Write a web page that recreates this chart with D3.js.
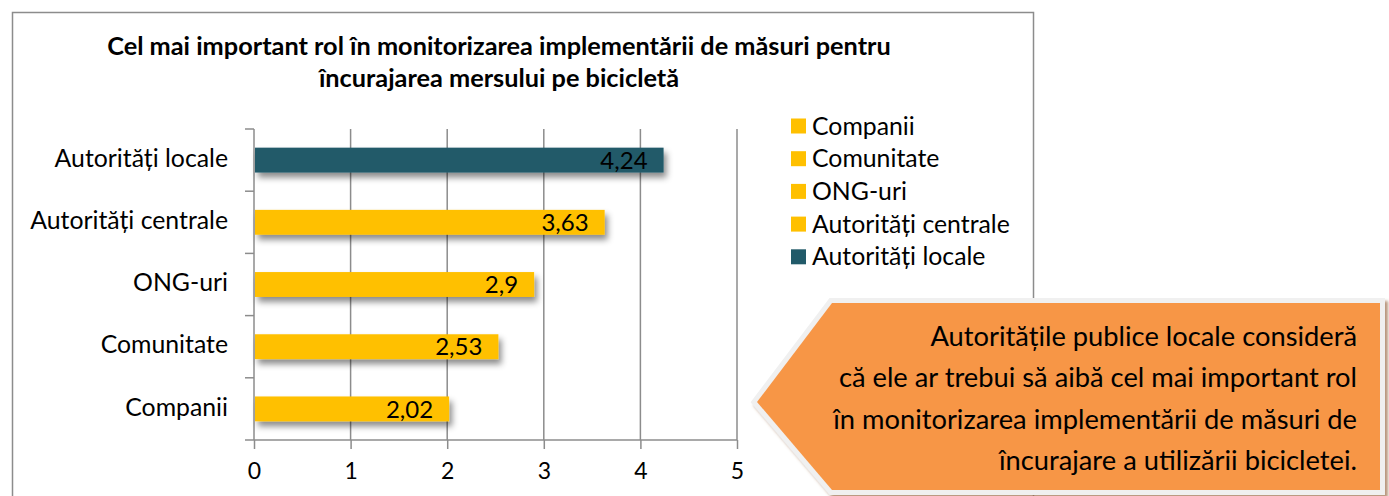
<!DOCTYPE html>
<html>
<head>
<meta charset="utf-8">
<script src="https://cdn.jsdelivr.net/npm/d3@7"></script>
<style>
  body { margin: 0; background: #fff; }
  svg { display: block; font-family: Lato, "Open Sans", sans-serif; }
</style>
</head>
<body>
<div id="chart"></div>
<script>
// data, bottom to top as in the picture
var categories = ["Companii", "Comunitate", "ONG-uri", "Autorități centrale", "Autorități locale"];
var values = [2.02, 2.53, 2.9, 3.63, 4.24];
var labels = ["2,02", "2,53", "2,9", "3,63", "4,24"];
var barColors = ["#FFC000", "#FFC000", "#FFC000", "#FFC000", "#215A69"];
var xTicks = [0, 1, 2, 3, 4, 5];
var titleLines = ["Cel mai important rol în monitorizarea implementării de măsuri pentru",
                  "încurajarea mersului pe bicicletă"];
var noteLines = ["Autoritățile publice locale consideră",
                 "că ele ar trebui să aibă cel mai important rol",
                 "în monitorizarea implementării de măsuri de",
                 "încurajare a utilizării bicicletei."];

var w = 1389;
var h = 496;
var plotLeft = 254, plotRight = 737, plotTop = 129, plotBottom = 440;

var svg = d3.select("#chart")
    .append("svg")
    .attr("width", w)
    .attr("height", h);

var defs = svg.append("defs");
defs.append("filter").attr("id", "barShadow")
    .attr("x", "-10%").attr("y", "-30%").attr("width", "130%").attr("height", "190%")
    .append("feDropShadow")
    .attr("dx", 3).attr("dy", 5).attr("stdDeviation", 3)
    .attr("flood-color", "#000").attr("flood-opacity", 0.45);
defs.append("filter").attr("id", "noteShadow")
    .attr("x", "-10%").attr("y", "-10%").attr("width", "130%").attr("height", "130%")
    .append("feDropShadow")
    .attr("dx", 3).attr("dy", 3).attr("stdDeviation", 1.5)
    .attr("flood-color", "#9a6a45").attr("flood-opacity", 0.7);

// outer chart frame
svg.append("rect")
    .attr("x", 12.5).attr("y", 12.5)
    .attr("width", 1021).attr("height", 500)
    .attr("fill", "#fff")
    .attr("stroke", "#8c8c8c")
    .attr("stroke-width", 1.5);

// title
svg.append("g").selectAll("text")
    .data(titleLines)
    .enter()
    .append("text")
    .attr("x", 499)
    .attr("y", function (d, i) { return 55 + i * 32; })
    .attr("text-anchor", "middle")
    .attr("font-size", "25.3px")
    .attr("font-weight", "bold")
    .attr("fill", "#000")
    .text(function (d) { return d; });

var x = d3.scaleLinear().domain([0, 5]).range([plotLeft, plotRight]);
var y = d3.scaleBand().domain(categories.slice().reverse()).range([plotTop, plotBottom]).paddingInner(0.6).paddingOuter(0.3);
var yFull = d3.scaleBand().domain(categories.slice().reverse()).range([plotTop, plotBottom]);

// vertical gridlines
svg.append("g").selectAll("line")
    .data(xTicks.slice(1))
    .enter()
    .append("line")
    .attr("x1", function (d) { return x(d); })
    .attr("x2", function (d) { return x(d); })
    .attr("y1", plotTop)
    .attr("y2", plotBottom)
    .attr("stroke", "#8c8c8c")
    .attr("stroke-width", 1.5);

// bottom axis
var xAxis = svg.append("g")
    .attr("transform", "translate(0," + plotBottom + ")")
    .call(d3.axisBottom(x).tickValues(xTicks).tickFormat(d3.format("d"))
        .tickSize(9).tickSizeOuter(0).tickPadding(14));
xAxis.select(".domain").attr("stroke", "#8c8c8c").attr("stroke-width", 1.5)
    .attr("d", "M" + (plotLeft - 9) + ",0H" + plotRight);
xAxis.selectAll(".tick line").attr("stroke", "#8c8c8c").attr("stroke-width", 1.5);
xAxis.selectAll(".tick text")
    .attr("font-size", "23px")
    .attr("font-family", "Lato, 'Open Sans', sans-serif")
    .attr("fill", "#000");

// category axis: tick marks between categories
var yAxis = svg.append("g").attr("transform", "translate(" + plotLeft + ",0)");
yAxis.append("line")
    .attr("x1", 0).attr("x2", 0).attr("y1", plotTop).attr("y2", plotBottom)
    .attr("stroke", "#8c8c8c").attr("stroke-width", 1.5);
yAxis.selectAll("line.sep")
    .data(categories)
    .enter()
    .append("line")
    .attr("class", "sep")
    .attr("x1", -9).attr("x2", 0)
    .attr("y1", function (d) { return yFull(d); })
    .attr("y2", function (d) { return yFull(d); })
    .attr("stroke", "#8c8c8c").attr("stroke-width", 1.5);
yAxis.selectAll("text")
    .data(categories)
    .enter()
    .append("text")
    .attr("x", -26)
    .attr("y", function (d) { return yFull(d) + yFull.bandwidth() / 2 - 2; })
    .attr("dy", "0.35em")
    .attr("text-anchor", "end")
    .attr("font-size", "24.8px")
    .attr("fill", "#000")
    .text(function (d) { return d; });

// bars
svg.append("g").selectAll("rect")
    .data(values)
    .enter()
    .append("rect")
    .attr("x", x(0) + 1)
    .attr("y", function (d, i) { return y(categories[i]); })
    .attr("width", function (d) { return x(d) - x(0) - 1; })
    .attr("height", y.bandwidth())
    .attr("fill", function (d, i) { return barColors[i]; })
    .attr("filter", "url(#barShadow)");

// value labels inside the bar ends
svg.append("g").selectAll("text")
    .data(values)
    .enter()
    .append("text")
    .attr("x", function (d) { return x(d) - 16; })
    .attr("y", function (d, i) { return y(categories[i]) + y.bandwidth() / 2; })
    .attr("dy", "0.36em")
    .attr("text-anchor", "end")
    .attr("font-size", "24px")
    .attr("fill", "#000")
    .text(function (d, i) { return labels[i]; });

// legend (same order as categories)
var legend = svg.append("g").selectAll("g")
    .data(categories)
    .enter()
    .append("g")
    .attr("transform", function (d, i) { return "translate(791," + (126 + i * 32.7) + ")"; });
legend.append("rect")
    .attr("x", 0).attr("y", -7.5)
    .attr("width", 15).attr("height", 15)
    .attr("fill", function (d, i) { return barColors[i]; });
legend.append("text")
    .attr("x", 21).attr("y", 0)
    .attr("dy", "0.35em")
    .attr("font-size", "24.8px")
    .attr("fill", "#000")
    .text(function (d) { return d; });

// callout arrow
var note = svg.append("g");
var shape = "M757,402 L832,303 L1380,303 L1380,490 L832,490 Z";
note.append("path")
    .attr("d", shape)
    .attr("fill", "#F0F0F0")
    .attr("stroke", "#F0F0F0")
    .attr("stroke-width", 10)
    .attr("stroke-linejoin", "miter")
    .attr("filter", "url(#noteShadow)");
note.append("path")
    .attr("d", shape)
    .attr("fill", "#F79646");
note.selectAll("text")
    .data(noteLines)
    .enter()
    .append("text")
    .attr("x", 1357)
    .attr("y", function (d, i) { return 336 + i * 41.5; })
    .attr("dy", "0.35em")
    .attr("text-anchor", "end")
    .attr("font-size", "27.3px")
    .attr("fill", "#000")
    .text(function (d) { return d; });
</script>
</body>
</html>
